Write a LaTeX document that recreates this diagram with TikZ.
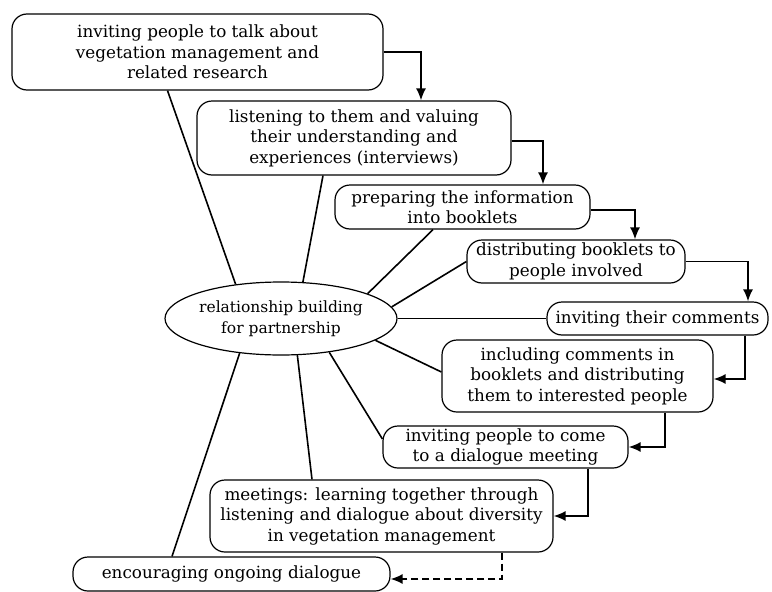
\documentclass[tikz,border=0pt]{standalone}
\usepackage{fontspec}
\setmainfont{DejaVu Serif}
\usetikzlibrary{shapes.geometric,arrows.meta}
\begin{document}
\begin{tikzpicture}[x=1pt,y=-1pt,
  box/.style={draw,line width=1.2pt,rounded corners=15pt,align=center,inner sep=0pt,font=\fontsize{16.8}{20.5}\selectfont},
  link/.style={draw,line width=1.6pt},
  flow/.style={draw,line width=1.6pt,-{Latex[length=12pt,width=10pt]}}]
\useasboundingbox (0,0) rectangle (772,592);
\node[draw,ellipse,line width=1.2pt,inner sep=0pt,minimum width=232pt,minimum height=73pt,align=center,font=\fontsize{15.5}{20.5}\selectfont] (0) at (281,318.5) {relationship building\\for partnership};
\node[box,minimum width=371pt,minimum height=76pt] (1) at (197.5,52) {inviting people to talk about\\vegetation management and\\related research};
\node[box,minimum width=314pt,minimum height=74pt] (2) at (354,138) {listening to them and valuing\\their understanding and\\experiences (interviews)};
\node[box,minimum width=255pt,minimum height=44pt] (3) at (462.5,207) {preparing the information\\into booklets};
\node[box,minimum width=218pt,minimum height=43pt] (4) at (576,261.5) {distributing booklets to\\people involved};
\node[box,minimum width=221pt,minimum height=33pt] (5) at (657.5,318.5) {inviting their comments};
\node[box,minimum width=271pt,minimum height=72pt] (6) at (577.5,376) {including comments in\\booklets and distributing\\them to interested people};
\node[box,minimum width=245pt,minimum height=42pt] (7) at (505.5,447) {inviting people to come\\to a dialogue meeting};
\node[box,minimum width=343pt,minimum height=72pt] (8) at (381.5,516) {meetings: learning together through\\listening and dialogue about diversity\\in vegetation management};
\node[box,minimum width=317pt,minimum height=34pt] (9) at (231.5,574) {encouraging ongoing dialogue};
% spokes from the centre
\path[link] (0.143) -- ([xshift=-30pt]1.south);
\path[link] (0.59) -- ([xshift=-31pt]2.south);
\path[link] (0.16) -- ([xshift=-29.5pt]3.south);
\path[link] (0.6) -- (4.west);
\path[link] (0.east) -- (5.west);
\path[link] (0.-13) -- ([yshift=4pt]6.west);
\path[link] (0.-35) -- ([yshift=8pt]7.west);
\path[link] (0.-66) -- ([xshift=-69.5pt]8.north);
\path[link] (0.-140) -- ([xshift=-59.5pt]9.north);
% steps
\path[flow] (1.east) -| ([xshift=67pt]2.north);
\path[flow] ([yshift=-3pt]2.east) -| ([xshift=80.5pt]3.north);
\path[flow] ([yshift=-3pt]3.east) -| ([xshift=59pt]4.north);
\path[flow] (4.east) -| ([xshift=90.5pt]5.north);
\path[flow] ([xshift=87.5pt]5.south) |- ([yshift=-3pt]6.east);
\path[flow] ([xshift=87.5pt]6.south) |- (7.east);
\path[flow] ([xshift=82.5pt]7.south) |- (8.east);
\path[flow,dash pattern=on 7pt off 4pt] ([xshift=120.5pt]8.south) |- ([yshift=-5pt]9.east);
\end{tikzpicture}
\end{document}
